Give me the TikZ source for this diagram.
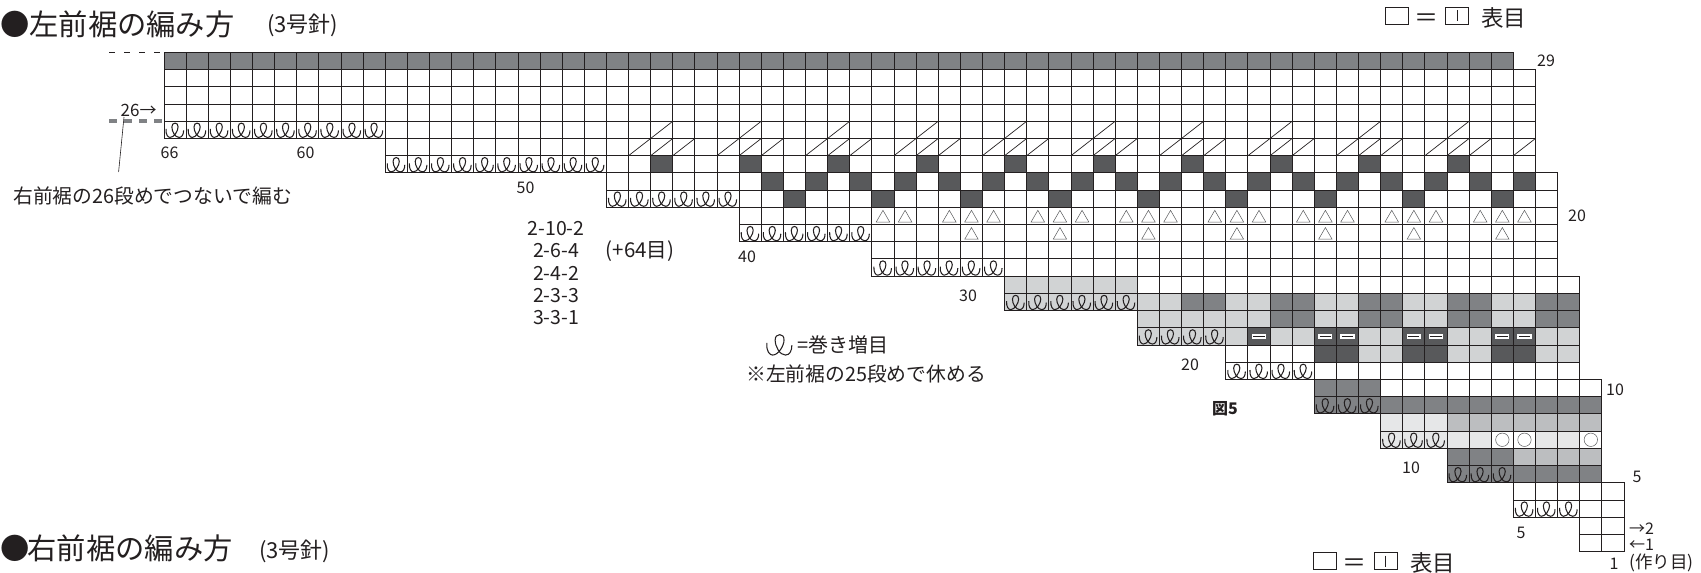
\documentclass[tikz,border=0pt]{standalone}
\usepackage{fontspec}
\setmainfont{Noto Sans CJK JP}
\definecolor{ink}{HTML}{231F20}
\definecolor{dkg}{HTML}{808285}
\definecolor{blk}{HTML}{58595B}
\definecolor{ltg}{HTML}{D1D3D4}
\definecolor{mdg}{HTML}{BCBEC0}
\definecolor{pal}{HTML}{E6E7E8}
\newcommand{\fsz}[1]{\fontsize{#1}{#1}\selectfont}
\tikzset{
  gridln/.style={draw=ink,line width=.95pt},
  txt/.style={inner sep=0pt,text=ink},
  numlbl/.style={txt,font=\fsz{16}},
  notelbl/.style={txt,font=\fsz{19.8}},
  titlelbl/.style={txt,anchor=west,font=\fsz{29.3}},
  needlelbl/.style={txt,font=\fsz{20.5}},
  legbox/.style={draw=ink,line width=.7pt,inner sep=0pt,minimum width=23pt,minimum height=17pt},
  wrapst/.pic={
    \draw[x=1pt,y=1pt,ink,line width=1.05pt] (2,9.5) .. controls (1.5,3.5) and (4,1) .. (6,1)
      .. controls (10,1) and (14,7.5) .. (14,11.5)
      .. controls (14,14) and (12.8,15.3) .. (11,15.3)
      .. controls (9.2,15.3) and (7.8,14) .. (7.8,11.5)
      .. controls (7.8,7) and (11,1) .. (15,1)
      .. controls (18,1) and (19.5,4) .. (19.5,8);},
  slashst/.pic={\draw[x=22.12pt,y=17.22pt,ink,line width=.7pt] (0,0) -- (1,1);},
  triup/.pic={\draw[x=1pt,y=1pt,blk,line width=.5pt] (4.3,2.5) -- (17.8,2.5) -- (11.06,14.2) -- cycle;},
  ringst/.pic={\draw[x=1pt,y=1pt,blk,line width=.5pt] (11.06,8.61) circle (6.7);},
  barst/.pic={
    \fill[x=1pt,y=1pt,white] (4,5.9) rectangle (18.1,11.3);
    \draw[x=1pt,y=1pt,ink,line width=.9pt] (5.5,8.6) -- (16.6,8.6);},
}
\begin{document}
\begin{tikzpicture}[x=1pt,y=-1pt]
  \useasboundingbox (0,0) rectangle (1701,573);

  \begin{scope}[x=-22.12pt,y=17.22pt,shift={(1624pt,-551.7pt)}]
    % shaded cells
    \foreach \rw/\ca/\cb/\tone in {29/6/66/dkg,
        16/23/28/ltg,
        15/21/28/ltg,15/19/20/dkg,15/17/18/ltg,15/15/16/dkg,15/13/14/ltg,15/11/12/dkg,15/9/10/ltg,15/7/8/dkg,15/5/6/ltg,15/3/4/dkg,
        14/17/22/ltg,14/15/16/dkg,14/13/14/ltg,14/11/12/dkg,14/9/10/ltg,14/7/8/dkg,14/5/6/ltg,14/3/4/dkg,
        13/18/22/ltg,13/17/17/blk,13/15/16/ltg,13/13/14/blk,13/11/12/ltg,13/9/10/blk,13/7/8/ltg,13/5/6/blk,13/3/4/ltg,
        12/13/14/blk,12/11/12/ltg,12/9/10/blk,12/7/8/ltg,12/5/6/blk,12/3/4/ltg,
        10/12/14/dkg,9/2/14/dkg,
        8/9/11/pal,8/2/8/mdg,
        7/7/11/pal,7/3/4/pal,
        6/6/8/dkg,6/2/5/mdg,5/2/8/dkg}
      \fill[\tone] (\ca-1,\rw-1) rectangle (\cb,\rw);
    \foreach \cc in {8,12,...,44}
      \fill[blk] (\cc-1,22) rectangle (\cc,23);
    \foreach \cc in {5,7,...,39}
      \fill[blk] (\cc-1,21) rectangle (\cc,22);
    \foreach \cc in {6,10,...,38}
      \fill[blk] (\cc-1,20) rectangle (\cc,21);

    % rows of the chart
    \foreach \rw/\ll/\rs in {1/2/1,2/2/1,3/5/1,4/5/1,5/8/2,6/8/2,7/11/2,8/11/2,9/14/2,10/14/2,
        11/18/3,12/18/3,13/22/3,14/22/3,15/28/3,16/28/3,17/34/4,18/34/4,19/40/4,20/40/4,21/46/4,22/46/4,
        23/56/5,24/56/5,25/66/5,26/66/5,27/66/5,28/66/5,29/66/6}
      \foreach \cc in {\rs,...,\ll}
        \draw[gridln] (\cc-1,\rw-1) rectangle (\cc,\rw);

    % increases
    \foreach \rw/\ca/\cb in {3/3/5,5/6/8,7/9/11,9/12/14,11/15/18,13/19/22,15/23/28,17/29/34,19/35/40,21/41/46,23/47/56,25/57/66}
      \foreach \cc in {\ca,...,\cb}
        \pic at (\cc,\rw-1) {wrapst};

    \foreach \cc in {8,12,...,44} {
      \pic at (\cc,24) {slashst};
      \pic at (\cc-1,23) {slashst};
      \pic at (\cc,23) {slashst};
      \pic at (\cc+1,23) {slashst};
    }
    \pic at (5,23) {slashst};

    \foreach \cc in {6,10,...,30} {
      \pic at (\cc,18) {triup};
      \pic at (\cc-1,19) {triup};
      \pic at (\cc,19) {triup};
      \pic at (\cc+1,19) {triup};
    }
    \pic at (33,19) {triup};
    \pic at (34,19) {triup};

    \foreach \cc in {5,6,9,10,13,14,17}
      \pic at (\cc,12) {barst};
    \foreach \cc in {2,5,6}
      \pic at (\cc,6) {ringst};
  \end{scope}

  \node[titlelbl] (titleL) at (0,24) {●左前裾の編み方};
  \node[needlelbl,anchor=west,font=\fsz{22}] (needleL) at (267,25) {(3号針)};
  \node[titlelbl] (titleR) at (0,548) {●\kern-2pt 右前裾の編み方};
  \node[needlelbl,anchor=west,font=\fsz{22}] (needleR) at (259,551) {(3号針)};

  % legends
  \node[legbox] (plainT) at (1397,15.5) {};
  \node[txt,font=\fsz{24}] (eqT) at (1426,20.5) {＝};
  \node[legbox] (knitT) at (1457,15.5) {};
  \node[txt,anchor=west,font=\fsz{22.5}] (faceT) at (1481,18) {表目};
  \draw[ink,line width=.7pt] (knitT.center) ++(0,-5.5) -- ++(0,11);
  \node[legbox] (plainB) at (1325,561) {};
  \node[txt,font=\fsz{24}] (eqB) at (1354.5,565.5) {＝};
  \node[legbox] (knitB) at (1385.5,561) {};
  \node[txt,anchor=west,font=\fsz{22.5}] (faceB) at (1410,563) {表目};
  \draw[ink,line width=.7pt] (knitB.center) ++(0,-5.5) -- ++(0,11);

  % row and stitch numbers
  \node[numlbl] (n29) at (1546,61) {29};
  \node[numlbl] (n20) at (1577,216) {20};
  \node[numlbl] (n10) at (1615,390) {10};
  \node[numlbl] (n5) at (1637,477) {5};
  \node[numlbl,anchor=west] (n2) at (1629,529) {→2};
  \node[numlbl,anchor=west] (n1) at (1629,545) {←1};
  \node[numlbl] (c1) at (1614,564) {1};
  \node[txt,anchor=west,font=\fsz{17.5}] (castL) at (1629,563) {(作り目)};
  \node[numlbl] (c5) at (1521,533) {5};
  \node[numlbl] (c10) at (1411,468) {10};
  \node[numlbl] (c20) at (1190,365) {20};
  \node[numlbl] (c30) at (968,296) {30};
  \node[numlbl] (c40) at (747,257) {40};
  \node[numlbl] (c50) at (525.5,188) {50};
  \node[numlbl] (c60) at (305.5,153) {60};
  \node[numlbl] (c66) at (169.5,153) {66};
  \node[txt,font=\fsz{16}\bfseries] (fig5) at (1225,409) {図5};

  % shaping notes
  \node[needlelbl,font=\fsz{19.5}] (inc1) at (556,229) {2-10-2};
  \node[needlelbl,font=\fsz{19.5}] (inc2) at (556,251) {2-6-4};
  \node[needlelbl,font=\fsz{19.5}] (inc3) at (556,273) {2-4-2};
  \node[needlelbl,font=\fsz{19.5}] (inc4) at (556,296) {2-3-3};
  \node[needlelbl,font=\fsz{19.5}] (inc5) at (556,318) {3-3-1};
  \node[needlelbl] (plus64) at (640,251) {(+64目)};

  \pic[scale=1.43] at (764,356.5) {wrapst};
  \node[txt,anchor=west,font=\fsz{20}] (wraplbl) at (797,345) {=巻き増目};
  \node[notelbl,anchor=west] (restnote) at (746,374) {※左前裾の25段めで休める};

  % joining row at the left
  \node[numlbl,anchor=west,font=\fsz{17}] (n26) at (120.5,110) {26→};
  \node[notelbl,anchor=west] (joinnote) at (13,196) {右前裾の26段めでつないで編む};
  \coordinate (leadtop) at (124,117);
  \coordinate (leadend) at (118.6,172);
  \draw[ink,line width=.6pt] (leadtop) -- (leadend);
  \coordinate (dashA) at (109,52.3);
  \coordinate (dashB) at (165,52.3);
  \draw[ink,line width=.8pt,dash pattern=on 6pt off 9pt] (dashA) -- (dashB);
  \coordinate (dashC) at (109,121.2);
  \coordinate (dashD) at (165,121.2);
  \draw[dkg,line width=4pt,dash pattern=on 8pt off 7pt] (dashC) -- (dashD);
\end{tikzpicture}
\end{document}
